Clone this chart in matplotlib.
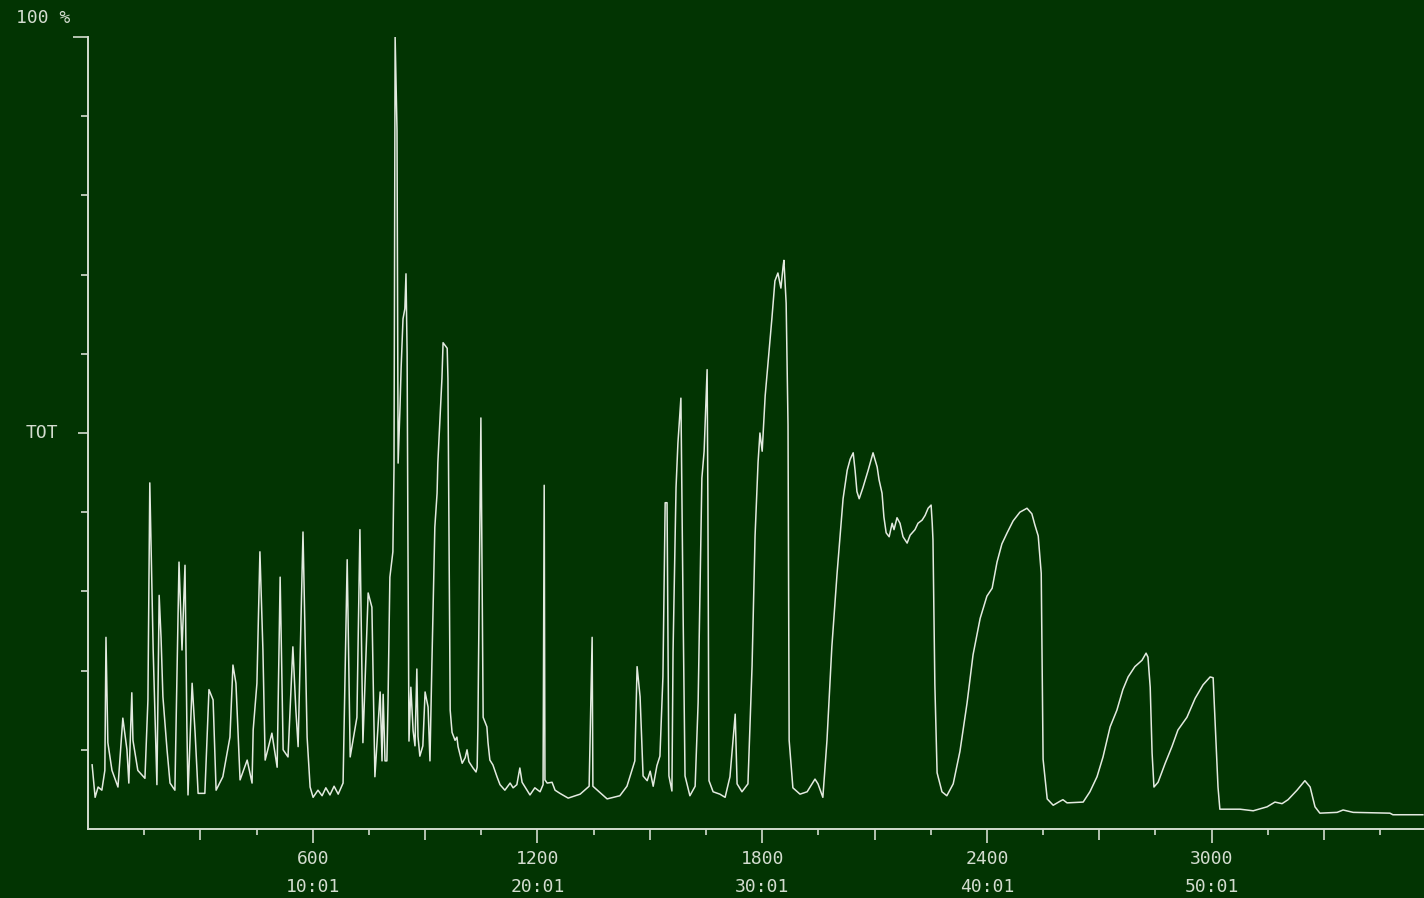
import matplotlib
matplotlib.use("Agg")
from matplotlib import pyplot as plt
from matplotlib.ticker import MultipleLocator

"""
    Total ion chromatogram (TOT), scan number / retention time
"""

# trace vertices: scan number and relative intensity (%)
scans = [11, 19, 27, 37, 45, 48, 53, 64, 80, 91,
         93, 104, 109, 117, 120, 133, 152, 160, 165, 174,
         184, 190, 195, 200, 211, 219, 232, 243, 251, 259,
         264, 267, 278, 286, 294, 312, 323, 334, 342, 360,
         379, 387, 395, 406, 425, 438, 441, 451, 459, 467,
         473, 491, 505, 513, 521, 534, 547, 555, 561, 574,
         585, 593, 601, 614, 625, 635, 646, 657, 668, 681,
         692, 700, 718, 726, 734, 748, 758, 766, 780, 785,
         788, 793, 798, 801, 806, 814, 817, 820, 825, 828,
         833, 836, 841, 846, 849, 852, 854, 857, 862, 868,
         873, 878, 881, 886, 894, 900, 908, 913, 918, 926,
         932, 934, 945, 948, 959, 961, 967, 972, 980, 985,
         988, 999, 1007, 1012, 1017, 1028, 1036, 1039, 1041, 1049,
         1055, 1065, 1068, 1073, 1081, 1092, 1100, 1113, 1127, 1135,
         1145, 1153, 1159, 1167, 1180, 1193, 1207, 1215, 1218, 1220,
         1226, 1239, 1247, 1260, 1282, 1314, 1338, 1346, 1348, 1386,
         1420, 1439, 1460, 1466, 1474, 1482, 1493, 1501, 1509, 1519,
         1527, 1535, 1541, 1546, 1551, 1559, 1562, 1570, 1575, 1583,
         1589, 1594, 1607, 1621, 1629, 1639, 1645, 1653, 1655, 1658,
         1669, 1687, 1701, 1714, 1722, 1728, 1733, 1746, 1762, 1773,
         1781, 1789, 1794, 1800, 1808, 1816, 1826, 1834, 1842, 1850,
         1856, 1858, 1864, 1869, 1872, 1882, 1901, 1920, 1933, 1941,
         1949, 1962, 1973, 1986, 2000, 2008, 2016, 2027, 2035, 2043,
         2048, 2053, 2059, 2069, 2083, 2096, 2107, 2112, 2120, 2125,
         2131, 2139, 2147, 2152, 2160, 2168, 2176, 2187, 2195, 2208,
         2216, 2227, 2235, 2243, 2251, 2254, 2256, 2261, 2267, 2280,
         2293, 2310, 2328, 2347, 2363, 2382, 2400, 2414, 2427, 2440,
         2454, 2470, 2488, 2507, 2520, 2528, 2537, 2545, 2547, 2550,
         2561, 2577, 2595, 2603, 2614, 2657, 2675, 2694, 2710, 2729,
         2747, 2763, 2777, 2795, 2814, 2825, 2830, 2836, 2841, 2846,
         2857, 2876, 2894, 2910, 2934, 2956, 2977, 2996, 3004, 3009,
         3017, 3022, 3076, 3111, 3148, 3169, 3188, 3204, 3228, 3249,
         3263, 3276, 3289, 3335, 3351, 3378, 3476, 3484, 3564]

intensity = [8.1, 4.0, 5.3, 4.9, 7.4, 24.2, 10.9, 7.4, 5.3, 12.5,
             14.0, 10.0, 5.8, 17.2, 11.2, 7.4, 6.4, 16.3, 43.7, 22.6,
             5.6, 29.5, 24.2, 16.7, 10.0, 5.8, 4.9, 33.7, 22.6, 33.3,
             12.9, 4.3, 18.4, 12.1, 4.5, 4.5, 17.6, 16.3, 4.9, 6.6,
             11.6, 20.7, 18.4, 6.2, 8.7, 5.8, 12.5, 18.4, 35.0, 22.6,
             8.7, 12.1, 7.8, 31.8, 10.0, 9.1, 23.0, 15.0, 10.4, 37.5,
             11.6, 5.3, 4.0, 4.9, 4.2, 5.2, 4.3, 5.4, 4.4, 5.8,
             34.0, 9.1, 14.1, 37.8, 10.9, 29.8, 28.0, 6.6, 17.3, 8.6,
             17.0, 8.6, 8.6, 16.0, 31.8, 35.0, 45.6, 100.0, 88.3, 46.2,
             53.2, 58.2, 64.4, 65.7, 70.1, 60.1, 38.1, 11.1, 17.9, 12.4,
             10.5, 20.2, 11.7, 9.2, 10.5, 17.3, 15.4, 8.6, 20.5, 38.1,
             42.4, 46.2, 56.9, 61.4, 60.7, 56.9, 15.0, 12.2, 11.2, 11.6,
             10.4, 8.3, 9.0, 10.0, 8.5, 7.7, 7.2, 7.8, 12.9, 51.9,
             14.1, 12.9, 10.9, 8.7, 8.1, 6.6, 5.6, 4.9, 5.8, 5.2,
             5.6, 7.7, 5.9, 5.3, 4.3, 5.2, 4.7, 5.6, 43.4, 6.2,
             5.8, 5.9, 4.9, 4.5, 3.9, 4.4, 5.4, 24.2, 5.4, 3.8,
             4.2, 5.4, 8.6, 20.5, 16.7, 6.7, 6.1, 7.3, 5.4, 8.0,
             9.2, 19.2, 41.2, 41.2, 6.7, 4.8, 22.3, 43.1, 48.7, 54.4,
             26.8, 6.7, 4.2, 5.4, 16.0, 44.3, 47.7, 58.0, 41.7, 6.1,
             4.7, 4.4, 4.0, 6.6, 11.2, 14.5, 5.7, 4.7, 5.7, 20.6,
             37.0, 46.3, 50.0, 47.7, 54.7, 59.0, 64.5, 69.2, 70.2, 68.3,
             71.1, 71.8, 66.4, 51.0, 11.2, 5.2, 4.4, 4.7, 5.7, 6.3,
             5.7, 4.0, 11.2, 23.0, 32.3, 37.0, 41.7, 45.3, 46.7, 47.5,
             45.3, 42.6, 41.7, 43.1, 45.3, 47.5, 45.7, 44.1, 42.4, 39.4,
             37.4, 36.9, 38.6, 37.8, 39.3, 38.6, 36.9, 36.1, 37.1, 37.8,
             38.6, 39.0, 39.6, 40.5, 40.9, 38.6, 36.5, 18.3, 7.1, 4.7,
             4.2, 5.7, 9.8, 15.9, 22.0, 26.6, 29.4, 30.4, 33.7, 36.0,
             37.4, 38.9, 40.0, 40.5, 39.8, 38.4, 37.0, 32.3, 23.0, 8.8,
             3.8, 3.0, 3.5, 3.7, 3.3, 3.4, 4.7, 6.6, 9.1, 12.9,
             15.0, 17.6, 19.2, 20.5, 21.3, 22.2, 21.7, 17.9, 9.6, 5.3,
             5.9, 8.3, 10.4, 12.5, 14.1, 16.5, 18.2, 19.2, 19.1, 13.8,
             5.3, 2.5, 2.5, 2.3, 2.8, 3.4, 3.2, 3.7, 4.9, 6.1,
             5.3, 2.8, 2.0, 2.1, 2.4, 2.1, 2.0, 1.8, 1.8]

tick_scans = [600, 1200, 1800, 2400, 3000]
tick_times = ["10:01", "20:01", "30:01", "40:01", "50:01"]

bg = "#023402"
fg = "#d3dccf"
trace = "#e3eae0"

plt.rcParams["font.family"] = ["DejaVu Sans Mono"]

fig = plt.figure(figsize=(14.24, 8.98), dpi=100, facecolor=bg)
ax = fig.add_axes([88 / 1424, 69 / 898, 1336 / 1424, 792 / 898], facecolor=bg)

ax.plot(scans, intensity, color=trace, lw=1.1)

ax.set_xlim(0, 3567)
ax.set_ylim(0, 100)

for side in ["top", "right"]:
    ax.spines[side].set_visible(False)
for side in ["left", "bottom"]:
    ax.spines[side].set_color(fg)
    ax.spines[side].set_linewidth(1.4)

# x axis: scan number over retention time
ax.set_xticks(tick_scans)
ax.set_xticklabels(["%d\n%s" % (s, t) for s, t in zip(tick_scans, tick_times)],
                   fontsize=13, color=fg, linespacing=1.7)
ax.xaxis.set_minor_locator(MultipleLocator(150))
ax.tick_params(axis="x", which="major", length=10, width=1.2, color=fg, pad=5)
ax.tick_params(axis="x", which="minor", length=4.3, width=1.2, color=fg)
for loc, tick in zip(ax.xaxis.get_minorticklocs(), ax.xaxis.get_minor_ticks()):
    if loc <= 0:
        tick.tick1line.set_visible(False)
    elif loc % 300 == 0:
        tick.tick1line.set_markersize(8)

# y axis: ticks every 10 %, label only at TOT
ax.set_yticks(range(10, 101, 10))
ax.set_yticklabels([])
ax.tick_params(axis="y", length=5, width=1.2, color=fg)
for loc, tick in zip(range(10, 101, 10), ax.yaxis.get_major_ticks()):
    if loc == 50:
        tick.tick1line.set_markersize(7.2)
    elif loc == 100:
        tick.tick1line.set_markersize(10.8)

ax.annotate("TOT", xy=(0, 50), xycoords=("axes fraction", "data"),
            xytext=(-30, 0), textcoords="offset pixels",
            ha="right", va="center", fontsize=13, color=fg)
ax.annotate("100 %", xy=(0, 100), xycoords=("axes fraction", "data"),
            xytext=(-72, 19), textcoords="offset pixels",
            ha="left", va="center", fontsize=13, color=fg)

plt.savefig("out.png", dpi=100, facecolor=bg)
